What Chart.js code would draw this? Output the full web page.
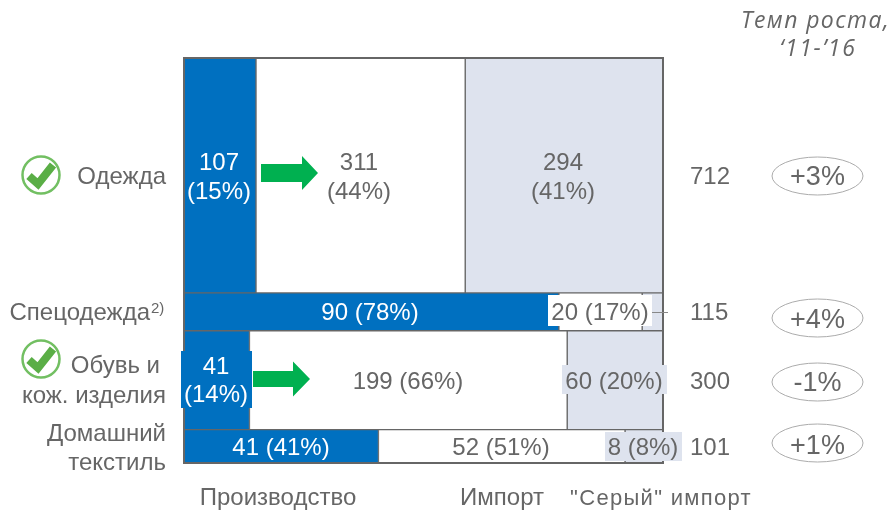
<!DOCTYPE html>
<html><head><meta charset="utf-8">
<style>html,body{margin:0;padding:0;background:#fff}canvas{display:block}</style>
<script src="https://cdn.jsdelivr.net/npm/chart.js@4"></script>
</head><body><div style="width:895px;height:510px"><canvas id="c"></canvas></div>
<script>
const categories = ['Одежда','Спецодежда','Обувь и кож. изделия','Домашний текстиль'];
const seriesNames = ['Производство','Импорт','"Серый" импорт'];
const production = [107,90,41,41];
const imports = [311,20,199,52];
const greyImports = [294,5,60,8];
const productionPct = [15,78,14,41];
const importsPct = [44,17,66,51];
const greyPct = [41,null,20,8];
const totals = [712,115,300,101];
const growth = ['+3%','+4%','-1%','+1%'];

const FONT = '"Liberation Sans", Arial, sans-serif';
const GREY = '#666666', BLUE = '#0070C0', PALE = '#DEE3EE', LINE = '#666666', GREEN = '#00B050';
const fills = [BLUE,'#FFFFFF',PALE];
const PAD = {left:184, top:58, right:232, bottom:47};
const series = [production,imports,greyImports];
const grand = totals.reduce((a,b)=>a+b,0);
const pxPerUnit = (510-PAD.top-PAD.bottom)/grand;

const datasets = [];
let cum = 0;
totals.forEach((t,r)=>{
  const rowSum = series.reduce((a,s)=>a+s[r],0);
  const centre = cum + t/2; cum += t;
  series.forEach((s,j)=>{
    datasets.push({label:seriesNames[j]+' — '+categories[r],
      data:[{x:s[r]/rowSum*100,y:centre}],
      backgroundColor:fills[j],borderColor:LINE,borderWidth:1,borderSkipped:false,
      stack:'m',barThickness:t*pxPerUnit});
  });
});

function text(ctx,str,x,y,o={}){
  ctx.save();
  ctx.font=(o.style?o.style+' ':'')+(o.size||24)+'px '+(o.family||FONT);
  ctx.fillStyle=o.color||GREY;
  ctx.textAlign=o.align||'center';
  ctx.textBaseline='middle';
  if(o.spacing) ctx.letterSpacing=o.spacing;
  ctx.fillText(str,x,y+1.5);
  ctx.restore();
}
function box(ctx,c,x0,y0,x1,y1){ctx.fillStyle=c;ctx.fillRect(x0,y0,x1-x0,y1-y0);}
function arrow(ctx,x0,x1,neck,cy,hs,hh){
  ctx.beginPath();
  ctx.moveTo(x0,cy-hs);ctx.lineTo(neck,cy-hs);ctx.lineTo(neck,cy-hh);ctx.lineTo(x1,cy);
  ctx.lineTo(neck,cy+hh);ctx.lineTo(neck,cy+hs);ctx.lineTo(x0,cy+hs);ctx.closePath();
  ctx.fillStyle=GREEN;ctx.fill();
}
function check(ctx,cx,cy){
  ctx.save();
  ctx.beginPath();ctx.arc(cx,cy,18.5,0,Math.PI*2);
  ctx.fillStyle='#FFFFFF';ctx.fill();
  ctx.lineWidth=2.5;ctx.strokeStyle='#72BF62';ctx.stroke();
  ctx.beginPath();ctx.moveTo(cx-12,cy+1);ctx.lineTo(cx-3,cy+9);ctx.lineTo(cx+12,cy-10);
  ctx.lineWidth=8;ctx.strokeStyle='#5AAE46';ctx.lineJoin='miter';ctx.stroke();
  ctx.restore();
}
const decorations = {
  id:'decorations',
  afterDatasetsDraw(chart){
    const {ctx,chartArea:a}=chart;
    const W='#FFFFFF';
    ctx.save();ctx.strokeStyle=LINE;ctx.lineWidth=2;
    ctx.strokeRect(a.left,a.top,a.right-a.left,a.bottom-a.top);ctx.restore();
    box(ctx,BLUE,181,351,252,408);
    box(ctx,W,548,295,652,326);
    box(ctx,PALE,562,365,667,394);
    box(ctx,PALE,605,432,682,461);
    ctx.save();ctx.strokeStyle='#888';ctx.lineWidth=1;ctx.beginPath();ctx.moveTo(652,312.5);ctx.lineTo(668,312.5);ctx.stroke();ctx.restore();
    text(ctx,String(production[0]),219,162,{color:W});
    text(ctx,'('+productionPct[0]+'%)',219,191,{color:W});
    text(ctx,String(imports[0]),359,162);
    text(ctx,'('+importsPct[0]+'%)',359,191);
    text(ctx,String(greyImports[0]),563,162);
    text(ctx,'('+greyPct[0]+'%)',563,191);
    text(ctx,production[1]+' ('+productionPct[1]+'%)',370,312,{color:W});
    text(ctx,imports[1]+' ('+importsPct[1]+'%)',600,312);
    text(ctx,String(production[2]),216,366,{color:W});
    text(ctx,'('+productionPct[2]+'%)',216,394,{color:W});
    text(ctx,imports[2]+' ('+importsPct[2]+'%)',408,381);
    text(ctx,greyImports[2]+' ('+greyPct[2]+'%)',614,381);
    text(ctx,production[3]+' ('+productionPct[3]+'%)',281,447,{color:W});
    text(ctx,imports[3]+' ('+importsPct[3]+'%)',501,447);
    text(ctx,greyImports[3]+' ('+greyPct[3]+'%)',643,447);
    arrow(ctx,261,318,302,173,9,17);
    arrow(ctx,253,310,293,379,8,17.5);
    check(ctx,41,175);
    check(ctx,41,359);
    text(ctx,'Одежда',166,176,{align:'right'});
    text(ctx,'Спецодежда',150,312,{align:'right'});
    text(ctx,'2)',151,307,{align:'left',size:15});
    text(ctx,'Обувь и',160,365,{align:'right'});
    text(ctx,'кож. изделия',166,395,{align:'right'});
    text(ctx,'Домашний',166,433,{align:'right'});
    text(ctx,'текстиль',166,462,{align:'right'});
    const ty=[176,312,381,447], oy=[176,318,382,443], gy=[176,319,382,445];
    totals.forEach((t,i)=>{
      text(ctx,String(t),690,ty[i],{align:'left'});
      ctx.save();ctx.beginPath();ctx.ellipse(817.5,oy[i],45.5,19,0,0,Math.PI*2);
      ctx.strokeStyle='#ABABAB';ctx.lineWidth=1;ctx.stroke();ctx.restore();
      text(ctx,growth[i],817.5,gy[i],{size:27});
    });
    text(ctx,'Темп роста,',890,20,{align:'right',style:'italic',size:23,family:'"Open Sans"',spacing:'1.4px'});
    text(ctx,'‘11-’16',818,48,{style:'italic',size:23,family:'"Open Sans"',spacing:'1.6px'});
    text(ctx,seriesNames[0],278,497);
    text(ctx,seriesNames[1],502,497);
    text(ctx,seriesNames[2],661,497,{size:22,spacing:'1.3px'});
  }
};
new Chart(document.getElementById('c'),{
  type:'bar',
  data:{datasets},
  options:{
    indexAxis:'y',responsive:true,maintainAspectRatio:false,animation:false,
    layout:{padding:PAD},
    plugins:{legend:{display:false},tooltip:{enabled:false}},
    scales:{
      x:{type:'linear',stacked:true,min:0,max:100,display:false},
      y:{type:'linear',min:0,max:grand,reverse:true,display:false,offset:false}
    }
  },
  plugins:[decorations]
});
</script></body></html>
